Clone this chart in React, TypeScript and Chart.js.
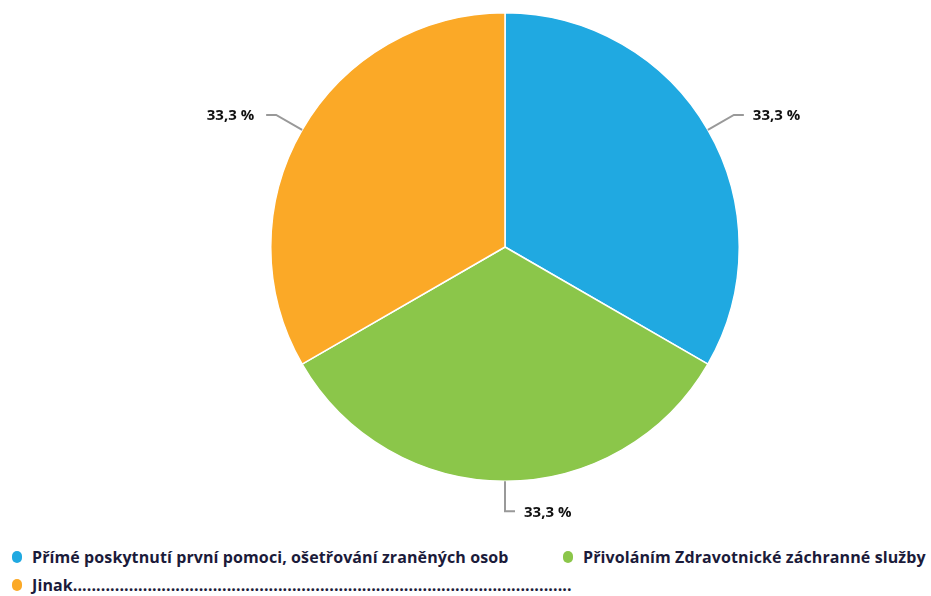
import React, { useEffect, useRef } from "react";
import { Chart, registerables } from "chart.js";

Chart.register(...registerables);

const categories = [
  "Přímé poskytnutí první pomoci, ošetřování zraněných osob",
  "Přivoláním Zdravotnické záchranné služby",
  "Jinak...........................................................................................................",
];
const values = [33.3, 33.3, 33.3];
const colors = ["#20A9E1", "#8BC64A", "#FBA927"];

const FONT = "'Open Sans', sans-serif";

const leaderPlugin = {
  id: "leaderLabels",
  afterDatasetsDraw(chart: any) {
    const ctx = chart.ctx;
    const meta = chart.getDatasetMeta(0);
    meta.data.forEach((arc: any, i: number) => {
      const mid = (arc.startAngle + arc.endAngle) / 2;
      const r = arc.outerRadius;
      const cx = arc.x;
      const cy = arc.y;
      const dx = Math.cos(mid);
      const dy = Math.sin(mid);
      const right = dx >= -0.01;
      const p0x = cx + dx * r;
      const p0y = cy + dy * r;
      const p1x = cx + dx * (r + 30);
      const p1y = cy + dy * (r + 30);
      const p2x = p1x + (right ? 10 : -10);
      ctx.save();
      ctx.strokeStyle = "#999999";
      ctx.lineWidth = 2;
      ctx.beginPath();
      ctx.moveTo(p0x, p0y);
      ctx.lineTo(p1x, p1y);
      ctx.lineTo(p2x, p1y);
      ctx.stroke();
      ctx.fillStyle = "#111111";
      ctx.font = "bold 15px " + FONT;
      ctx.textBaseline = "middle";
      ctx.textAlign = right ? "left" : "right";
      const txt = values[i].toFixed(1).replace(".", ",") + " %";
      ctx.fillText(txt, p2x + (right ? 9 : -12), p1y + 1);
      ctx.restore();
    });
  },
};

export default function App() {
  const ref = useRef<HTMLCanvasElement | null>(null);
  useEffect(() => {
    if (!ref.current) return;
    const chart = new Chart(ref.current, {
      type: "pie",
      data: {
        labels: categories,
        datasets: [
          {
            data: values,
            backgroundColor: colors,
            borderColor: "#ffffff",
            borderWidth: 1.5,
          },
        ],
      },
      options: {
        responsive: false,
        animation: false,
        layout: { padding: { top: 12, bottom: 58, left: 79, right: 0 } },
        plugins: {
          legend: { display: false },
          tooltip: { enabled: false },
        },
      },
      plugins: [leaderPlugin],
    });
    return () => chart.destroy();
  }, []);

  return (
    <div
      style={{
        position: "absolute",
        left: 0,
        top: 0,
        width: 931,
        height: 596,
        background: "#ffffff",
        fontFamily: FONT,
      }}
    >
      <canvas ref={ref} width={931} height={540} style={{ display: "block" }} />
      <div
        style={{
          position: "absolute",
          left: 12,
          top: 546,
          display: "grid",
          gridTemplateColumns: "551px auto",
          rowGap: 6,
        }}
      >
        {categories.map((c, i) => (
          <div
            key={i}
            style={{
              display: "flex",
              alignItems: "center",
              height: 22,
              whiteSpace: "nowrap",
              color: "#1B1B3A",
              fontWeight: 700,
              fontSize: 16,
              letterSpacing: 0.1,
            }}
          >
            <span
              style={{
                display: "inline-block",
                flexShrink: 0,
                width: 10,
                height: 12,
                borderRadius: 5,
                background: colors[i],
                marginRight: 10,
              }}
            />
            <span style={{ flexShrink: 0 }}>{c}</span>
          </div>
        ))}
      </div>
    </div>
  );
}
